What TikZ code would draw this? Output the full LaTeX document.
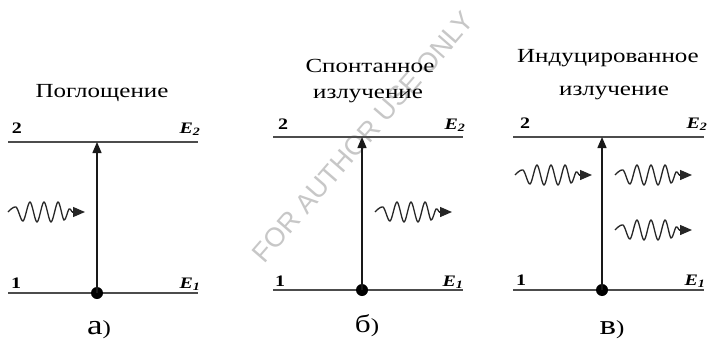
\documentclass[tikz,border=0pt]{standalone}
\usepackage{fontspec}
\setmainfont{Liberation Serif}
\newfontfamily\tfont{Liberation Serif}[FakeStretch=1.25]
\newfontfamily\wmfont{Liberation Sans}
\usetikzlibrary{arrows.meta}
\tikzset{
  level/.style={draw=black!70, line width=1.8pt},
  trans/.style={draw=black!90, line width=1.4pt, -{Triangle[length=11pt,width=9pt]}},
  popdot/.style={circle, fill=black, inner sep=0pt, minimum size=12pt},
  title/.style={font=\tfont\fontsize{20}{24}\selectfont, anchor=base, inner sep=0pt},
  lvl/.style={font=\tfont\bfseries\fontsize{16}{16}\selectfont, anchor=base, inner sep=0pt},
  ene/.style={font=\tfont\bfseries\itshape\fontsize{16}{16}\selectfont, anchor=base, inner sep=0pt},
  panlabel/.style={font=\tfont\fontsize{20}{20}\selectfont, anchor=base, inner sep=0pt},
  wm/.style={font=\wmfont\fontsize{27}{27}\selectfont, text=black!22, rotate=49, inner sep=0pt},
  wave/.style={draw=black!85, line width=1.3pt},
  photon/.pic={
    \draw[wave] plot[smooth, tension=0.55] coordinates {(0,0) (8,-5) (15,9) (22,-10) (29,10) (36,-10) (43,10) (50,-10) (56,8) (61,-3) (64,0)};
    \draw[wave, -{Triangle[length=12pt,width=10pt]}] (64,0) -- (77,0);
  }
}
\begin{document}
\begin{tikzpicture}[x=1pt, y=-1pt]
\fill[white] (0,0) rectangle (711,345);
\useasboundingbox (0,0) rectangle (711,345);
% watermark
\node[wm] (wmk) at (363,137) {FOR AUTHOR USE ONLY};

% ---------- panel a ----------
\coordinate (a2l) at (8,142); \coordinate (a2r) at (198,142);
\coordinate (a1l) at (8,293); \coordinate (a1r) at (198,293);
\coordinate (ta) at (97,142);
\draw[level] (a2l) -- (a2r);
\draw[level] (a1l) -- (a1r);
\node[popdot] (da) at (97,293) {};
\draw[trans] (da.center) -- (ta);
\node[lvl] (a2) at (17,133) {2};
\node[lvl] (a1) at (16,288) {1};
\node[ene] (aE2) at (190,133) {E\textsubscript{2}};
\node[ene] (aE1) at (190,288) {E\textsubscript{1}};
\node[title] (at) at (102,97) {Поглощение};
\node[panlabel] (al) at (99,334) {{\fontsize{28}{28}\selectfont а})};
\pic (wa) at (8,212) {photon};

% ---------- panel b ----------
\coordinate (b2l) at (273,137); \coordinate (b2r) at (463,137);
\coordinate (b1l) at (273,290); \coordinate (b1r) at (463,290);
\coordinate (tb) at (362,137);
\draw[level] (b2l) -- (b2r);
\draw[level] (b1l) -- (b1r);
\node[popdot] (db) at (362,290) {};
\draw[trans] (db.center) -- (tb);
\node[lvl] (b2) at (283,129) {2};
\node[lvl] (b1) at (280,286) {1};
\node[ene] (bE2) at (455,129) {E\textsubscript{2}};
\node[ene] (bE1) at (453,286) {E\textsubscript{1}};
\node[title] (bt1) at (370,72) {Спонтанное};
\node[title] (bt2) at (368,98) {излучение};
\node[panlabel] (bl) at (367,332) {{\fontsize{25}{25}\selectfont б})};
\pic (wb) at (375,212) {photon};

% ---------- panel c ----------
\coordinate (c2l) at (513,137); \coordinate (c2r) at (704,137);
\coordinate (c1l) at (513,290); \coordinate (c1r) at (704,290);
\coordinate (tc) at (602,137);
\draw[level] (c2l) -- (c2r);
\draw[level] (c1l) -- (c1r);
\node[popdot] (dc) at (602,290) {};
\draw[trans] (dc.center) -- (tc);
\node[lvl] (c2) at (525,128) {2};
\node[lvl] (c1) at (521,285) {1};
\node[ene] (cE2) at (697,128) {E\textsubscript{2}};
\node[ene] (cE1) at (695,285) {E\textsubscript{1}};
\node[title] (ct1) at (608,63) {Индуцированное};
\node[title] (ct2) at (614,95) {излучение};
\node[panlabel] (cl) at (612,334) {{\fontsize{28}{28}\selectfont в})};
\pic (wc1) at (515,175) {photon};
\pic (wc2) at (615,175) {photon};
\pic (wc3) at (615,230) {photon};
\end{tikzpicture}
\end{document}
